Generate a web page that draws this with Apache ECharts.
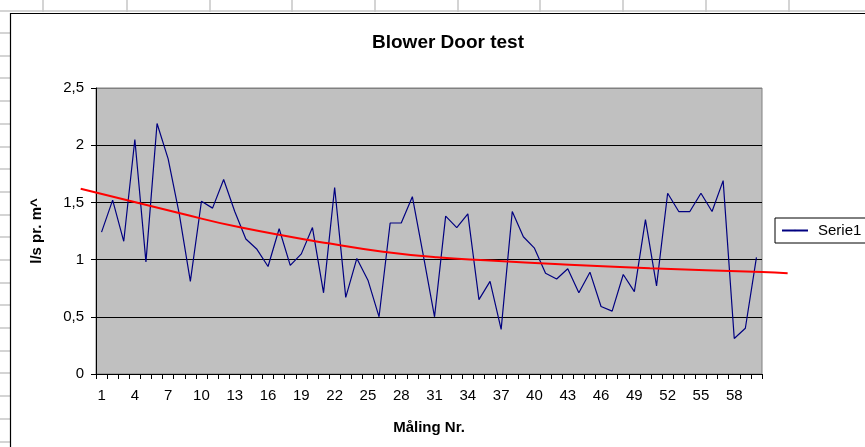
<!DOCTYPE html>
<html><head><meta charset="utf-8">
<script src="https://cdn.jsdelivr.net/npm/echarts@6/dist/echarts.min.js"></script>
<style>html,body{margin:0;padding:0;background:#fff}#c{width:865px;height:447px}</style>
</head><body><div id="c"></div>
<script>
const categories = ['1','2','3','4','5','6','7','8','9','10','11','12','13','14','15','16','17','18','19','20',
  '21','22','23','24','25','26','27','28','29','30','31','32','33','34','35','36','37','38','39','40',
  '41','42','43','44','45','46','47','48','49','50','51','52','53','54','55','56','57','58','59','60'];
const serie1 = [1.24,1.52,1.16,2.05,0.98,2.19,1.88,1.40,0.81,1.51,1.45,1.70,1.42,1.18,1.09,0.94,1.27,0.95,1.05,1.28,
  0.71,1.63,0.67,1.01,0.82,0.50,1.32,1.32,1.55,1.03,0.50,1.38,1.28,1.40,0.65,0.81,0.39,1.42,1.20,1.10,
  0.88,0.83,0.92,0.71,0.89,0.59,0.55,0.87,0.72,1.35,0.77,1.58,1.42,1.42,1.58,1.42,1.69,0.31,0.40,1.02];
const trendX = [-0.88, 8.07, 13.47, 21.58, 26.36, 31.19, 35.99, 42.30, 50.40, 60.5, 62.81];
const trendY = [1.620, 1.405, 1.282, 1.140, 1.069, 1.020, 0.992, 0.959, 0.924, 0.892, 0.880];
const yTicks = ['0','0,5','1','1,5','2','2,5'];
const seriesName = 'Serie1';
const titleText = 'Blower Door test';
const yName = 'l/s pr. m^';
const xName = 'Måling Nr.';

const FONT = '"Liberation Sans", Arial, sans-serif';
const chart = echarts.init(document.getElementById('c'), null, {renderer: 'canvas'});

// spreadsheet background decoration
const deco = [];
const colX = [43,127,210,292,375,458,540,623,706,789];
colX.forEach(x => deco.push({type:'line', shape:{x1:x,y1:0,x2:x,y2:12}, style:{stroke:'#c6c6c6', lineWidth:1.5}, z:-10}));
deco.push({type:'line', shape:{x1:0,y1:11,x2:865,y2:11}, style:{stroke:'#c6c6c6', lineWidth:1.5}, z:-10});
for (let y = 33; y < 447; y += 22.7) {
  deco.push({type:'line', shape:{x1:0,y1:Math.round(y),x2:10,y2:Math.round(y)}, style:{stroke:'#c6c6c6', lineWidth:1.5}, z:-10});
}
deco.push({type:'rect', shape:{x:10.5,y:13.5,width:900,height:500}, style:{fill:'#fff', stroke:'#000', lineWidth:1.2}, z:-9});

const pairs = trendX.map((x,i)=>[x, trendY[i]]);

// main plot: left 96, width 666 -> category k centre at 96 + (k-0.5)*11.1
// trend grid: same index scale, extended: x=-0.88 .. 62.81
const catW = 666 / 60;
const tMin = -0.88, tMax = 62.81;
const tLeft = 96 + (tMin - 0.5) * catW;
const tWidth = (tMax - tMin) * catW;

chart.setOption({
  animation: false,
  backgroundColor: '#fff',
  textStyle: {fontFamily: FONT},
  graphic: deco,
  title: {
    text: titleText, left: 443, top: 28, textAlign: 'center',
    textStyle: {fontFamily: FONT, fontSize: 19, fontWeight: 'bold', color: '#000'}
  },
  legend: {
    data: [seriesName], left: 775, top: 218, orient: 'vertical',
    padding: [5, 20, 5, 6], itemWidth: 26, itemHeight: 2, itemGap: 0,
    backgroundColor: '#fff', borderColor: '#000', borderWidth: 1,
    textStyle: {fontFamily: FONT, fontSize: 15, color: '#000', padding:[0,0,0,5]}
  },
  grid: [{
    left: 96, top: 88, width: 666, height: 286,
    show: true, backgroundColor: '#C0C0C0', borderColor: '#808080', borderWidth: 1
  }, {
    left: tLeft, top: 88, width: tWidth, height: 286, show: false
  }],
  xAxis: [{
    type: 'category', data: categories, boundaryGap: true, gridIndex: 0,
    name: xName, nameLocation: 'middle', nameGap: 46,
    nameTextStyle: {fontFamily: FONT, fontSize: 15, fontWeight: 'bold', color: '#000'},
    axisLine: {lineStyle: {color: '#000', width: 1}},
    axisTick: {show: true, interval: 0, length: 5, inside: false, lineStyle: {color: '#000'}},
    axisLabel: {interval: 2, margin: 14, fontFamily: FONT, fontSize: 15, color: '#000'},
    splitLine: {show: false}
  }, {
    type: 'value', gridIndex: 1, min: tMin, max: tMax, show: false
  }],
  yAxis: [{
    type: 'value', min: 0, max: 2.5, interval: 0.5, gridIndex: 0,
    name: yName, nameLocation: 'middle', nameGap: 52, nameRotate: 90,
    nameTextStyle: {fontFamily: FONT, fontSize: 15, fontWeight: 'bold', color: '#000'},
    axisLine: {show: true, lineStyle: {color: '#000', width: 1}},
    axisTick: {show: true, length: 5, lineStyle: {color: '#000'}},
    axisLabel: {margin: 12, fontFamily: FONT, fontSize: 15, color: '#000',
      formatter: (v) => yTicks[Math.round(v / 0.5)]},
    splitLine: {show: true, lineStyle: {color: ['#000','#000','#000','#000','#000','#808080'], width: 1}}
  }, {
    type: 'value', min: 0, max: 2.5, gridIndex: 1, show: false
  }],
  series: [{
    name: seriesName, type: 'line', data: serie1, xAxisIndex: 0, yAxisIndex: 0,
    symbol: 'none', lineStyle: {color: '#000080', width: 1.2}, itemStyle: {color: '#000080'}, z: 3
  }, {
    name: 'trend', type: 'line', data: pairs, xAxisIndex: 1, yAxisIndex: 1, smooth: true,
    symbol: 'none', lineStyle: {color: '#FF0000', width: 2}, itemStyle: {color: '#FF0000'}, z: 4
  }]
});
</script>
</body></html>
